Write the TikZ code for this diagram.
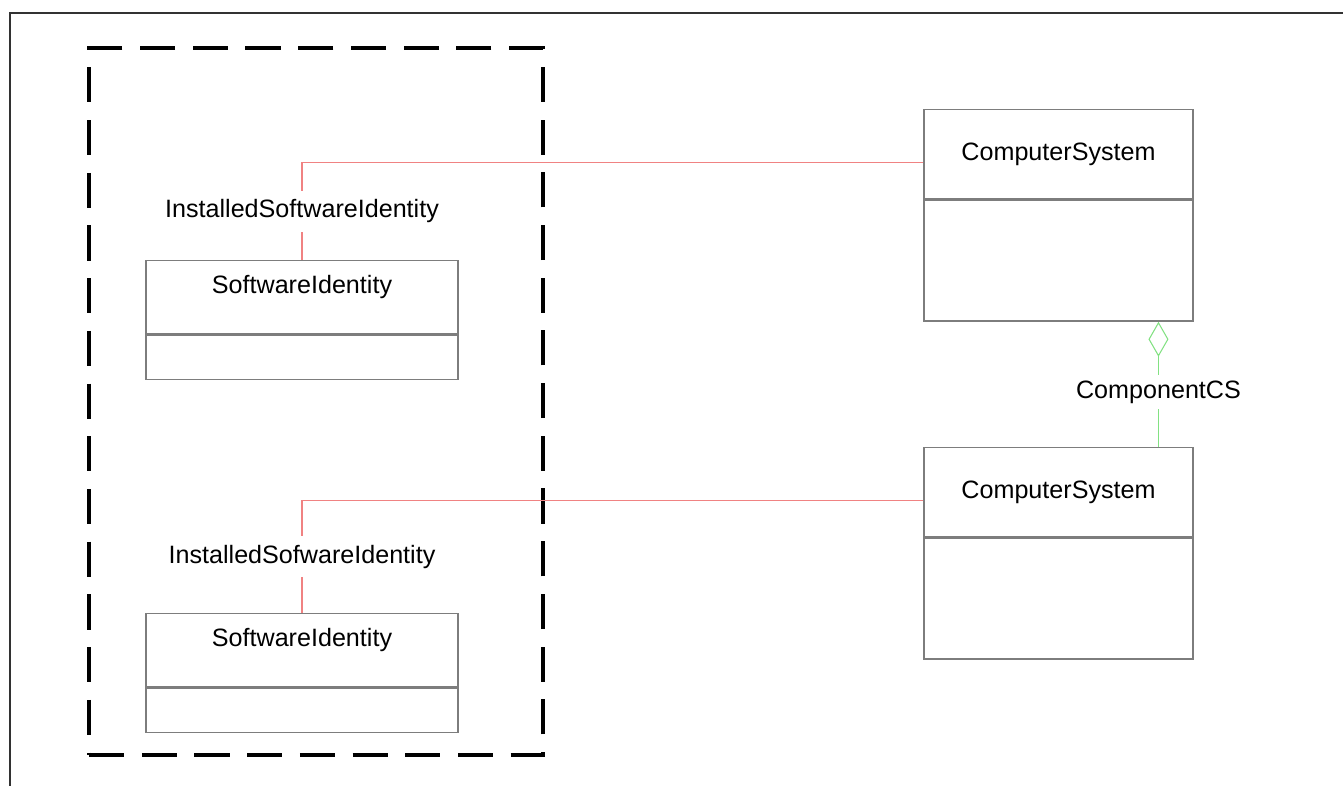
\documentclass[tikz,border=0pt]{standalone}
\usepackage{fontspec}
\setmainfont{Liberation Sans}
\usetikzlibrary{arrows.meta}
\definecolor{assocred}{RGB}{240,130,130}
\definecolor{aggrgreen}{RGB}{130,225,130}
\definecolor{boxgray}{RGB}{125,125,125}
\definecolor{framegray}{RGB}{50,50,50}

\begin{document}
\begin{tikzpicture}[
  x=0.02cm,y=-0.02cm,
  cls/.style={draw=boxgray,line width=0.8pt,anchor=north,inner sep=0pt,
    font=\fontsize{14.3}{17}\selectfont},
  sihead/.style={cls,minimum width=6.24cm,minimum height=1.46cm,text depth=14pt},
  sibody/.style={cls,minimum width=6.24cm,minimum height=0.89cm},
  cshead/.style={cls,minimum width=5.38cm,minimum height=1.78cm},
  csbody/.style={cls,minimum width=5.38cm,minimum height=2.42cm},
  pkg/.style={draw=black,line width=2pt,dash pattern=on 20pt off 10pt,
    minimum width=9.08cm,minimum height=14.14cm,inner sep=0pt},
  assoc/.style={draw=assocred,line width=0.6pt},
  aggr/.style={draw=aggrgreen,line width=0.6pt},
  lbl/.style={fill=white,inner xsep=2pt,inner ysep=5pt,
    font=\fontsize{14.3}{17}\selectfont}
]
\useasboundingbox (0,0) rectangle (1343,786);
% frame (only top and left edges show)
\draw[framegray,line width=1.1pt] (1343,13) -- (10,13) -- (10,786);
% package boundary
\node[pkg] (grp) at (316,401.5) {};
% classes
\node[sihead] (si1) at (302,260) {SoftwareIdentity};
\node[sibody] (si1b) at (si1.south) {};
\node[sihead] (si2) at (302,613) {SoftwareIdentity};
\node[sibody] (si2b) at (si2.south) {};
\node[cshead] (cs1) at (1058.5,109) {ComputerSystem};
\node[csbody] (cs1b) at (cs1.south) {};
\node[cshead] (cs2) at (1058.5,447) {ComputerSystem};
\node[csbody] (cs2b) at (cs2.south) {};
% associations
\foreach \s/\c/\t in {si1/cs1/InstalledSoftwareIdentity,si2/cs2/InstalledSofwareIdentity}
  {\draw[assoc] (\s.north) |- ([yshift=-0.17cm]\c.west)
     node[lbl,pos=0.25] (lab\s) {\t};}
% aggregation
\draw[aggr,-{Diamond[open,length=0.7cm,width=0.4cm,fill=white]}]
  ([xshift=2cm]cs2.north) -- ([xshift=2cm]cs1b.south)
  node[lbl,inner ysep=3pt,pos=0.44] (ccs) {ComponentCS};
\end{tikzpicture}
\end{document}
